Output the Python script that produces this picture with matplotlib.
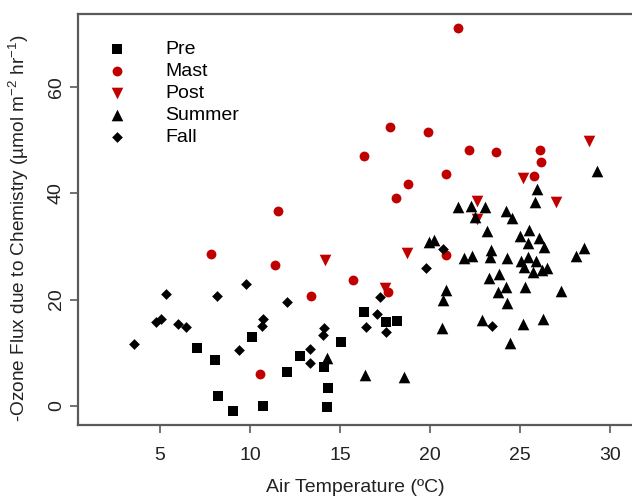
import numpy as np
import matplotlib
matplotlib.use('Agg')
import matplotlib.pyplot as plt

plt.rcParams['font.family'] = ['Liberation Sans', 'DejaVu Sans']
plt.rcParams['mathtext.fontset'] = 'custom'
plt.rcParams['mathtext.rm'] = 'Liberation Sans'
plt.rcParams['mathtext.it'] = 'Liberation Sans:italic'

# air temperature (C) / ozone flux
pre_x = [7.04, 8.06, 8.2, 9.04, 10.09, 10.7, 12.04, 12.78, 14.1, 14.35, 14.3, 15.04, 16.35, 17.56, 18.17]
pre_y = [10.85, 8.65, 1.94, -0.94, 13.0, 0.06, 6.4, 9.4, 7.4, 3.3, -0.25, 12.1, 17.7, 15.7, 15.9]

mast_x = [21.56, 17.76, 19.89, 22.15, 23.65, 26.13, 26.19, 25.76, 20.87, 18.8,
          18.1, 16.33, 11.54, 7.82, 11.4, 15.72, 13.39, 10.54, 17.68, 20.89]
mast_y = [71.0, 52.5, 51.5, 48.1, 47.7, 48.1, 45.8, 43.3, 43.6, 41.8,
          39.1, 47.0, 36.7, 28.6, 26.5, 23.7, 20.6, 6.1, 21.5, 28.3]

post_x = [28.85, 25.14, 26.98, 22.63, 22.61, 14.17, 18.74, 17.5]
post_y = [49.8, 42.9, 38.3, 38.6, 35.2, 27.5, 28.8, 22.1]

summer_x = [14.3, 16.4, 18.57, 20.68, 20.74, 20.89, 19.96, 20.24, 21.89, 22.32, 21.57, 22.26, 22.5,
            29.3, 25.96, 25.83, 23.06, 24.2, 24.57, 23.18, 25.5, 25.0, 26.07, 25.43, 26.33,
            23.4, 23.33, 24.3, 25.06, 25.43, 25.89, 25.24, 25.7, 26.2, 26.5, 28.57, 28.1,
            23.85, 23.28, 24.22, 23.8, 25.3, 27.26, 24.3, 22.87, 25.14, 26.3, 24.44]
summer_y = [9.0, 5.8, 5.5, 14.7, 19.9, 21.8, 30.8, 31.3, 27.8, 28.2, 37.5, 37.6, 35.6,
            44.1, 40.8, 38.4, 37.4, 36.6, 35.3, 32.9, 33.1, 32.0, 31.5, 30.6, 29.8,
            29.3, 28.1, 27.8, 27.3, 28.0, 27.3, 26.2, 25.1, 25.6, 25.9, 29.7, 28.2,
            24.8, 24.1, 22.4, 21.4, 22.4, 21.6, 19.3, 16.2, 15.4, 16.4, 11.8]

fall_x = [3.56, 5.33, 4.8, 5.05, 6.02, 6.43, 8.15, 9.76, 9.41, 10.7, 10.68, 12.04,
          13.33, 13.33, 14.13, 14.07, 17.2, 17.04, 16.46, 17.56, 19.76, 20.7, 23.46]
fall_y = [11.6, 21.1, 15.7, 16.3, 15.4, 14.9, 20.7, 22.9, 10.5, 16.3, 15.0, 19.6,
          10.7, 8.0, 14.6, 13.4, 20.4, 17.3, 14.9, 14.0, 26.0, 29.5, 15.0]

red = '#c00000'
axis_col = '#5a5a5a'

fig = plt.figure(figsize=(6.32, 4.98), dpi=100)
ax = fig.add_axes([0.1234, 0.1466, 0.8766, 0.8253])

ax.scatter(pre_x, pre_y, marker='s', s=55, c='black', lw=0, label='Pre')
ax.scatter(mast_x, mast_y, marker='o', s=50, c=red, lw=0, label='Mast')
ax.scatter(post_x, post_y, marker='v', s=70, c=red, lw=0, label='Post')
ax.scatter(summer_x, summer_y, marker='^', s=70, c='black', lw=0, label='Summer')
ax.scatter(fall_x, fall_y, marker='D', s=30, c='black', lw=0, label='Fall')

ax.set_xlim(0.44, 31.22)
ax.set_ylim(-3.57, 73.7)
ax.set_xticks([5, 10, 15, 20, 25, 30])
ax.set_yticks([0, 20, 40, 60])
ax.tick_params(direction='out', length=5.5, width=1.2, color=axis_col, labelsize=14, labelcolor='#222222')
ax.tick_params(axis='x', pad=10.5)
ax.tick_params(axis='y', pad=4)
plt.setp(ax.get_yticklabels(), rotation=90, va='center')

for side in ['left', 'top', 'bottom']:
    ax.spines[side].set_color(axis_col)
    ax.spines[side].set_linewidth(1.6)
ax.spines['right'].set_visible(False)

ax.set_xlabel('Air Temperature (ºC)', fontsize=14, labelpad=11, color='#222222')
ax.set_ylabel(r'-Ozone Flux due to Chemistry (µmol m$^{-2}$ hr$^{-1}$)', fontsize=13.7,
              color='#222222')
ax.yaxis.set_label_coords(-0.085, 0.48)

ax.legend(loc='upper left', bbox_to_anchor=(0.0354, 0.935), frameon=False, fontsize=14,
          handlelength=2.0, handletextpad=1.47, labelspacing=0.22, borderpad=0, borderaxespad=0)

fig.savefig('out.png', dpi=100)
